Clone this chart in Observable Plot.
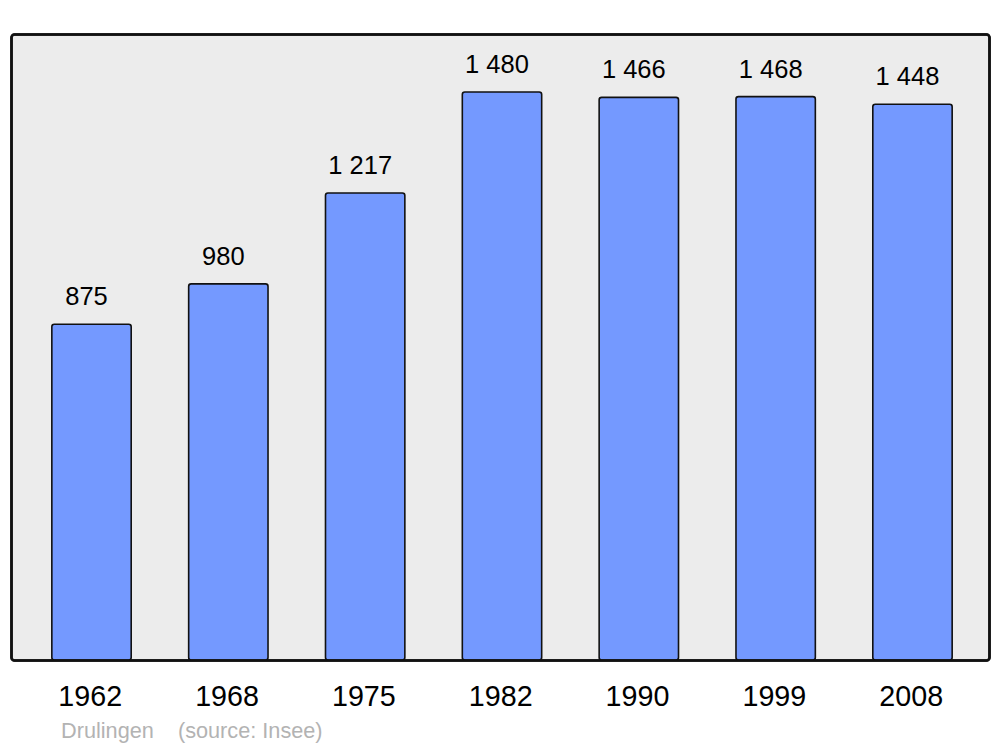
<!DOCTYPE html>
<html>
<head>
<meta charset="utf-8">
<script src="https://cdn.jsdelivr.net/npm/d3@7"></script>
<script src="https://cdn.jsdelivr.net/npm/@observablehq/plot@0.6"></script>
<style>
  html, body { margin: 0; padding: 0; background: #ffffff; }
  #chart { width: 1000px; height: 747px; }
</style>
</head>
<body>
<div id="chart"></div>
<script>
const years = ["1962", "1968", "1975", "1982", "1990", "1999", "2008"];
const population = [875, 980, 1217, 1480, 1466, 1468, 1448];
const valueLabels = ["875", "980", "1 217", "1 480", "1 466", "1 468", "1 448"];
const captionText = ["Drulingen\u00a0\u00a0\u00a0\u00a0(source: Insee)"];

const data = years.map((y, i) => ({year: y, pop: population[i], label: valueLabels[i]}));

const font = "'Liberation Sans', Arial, sans-serif";

const chart = Plot.plot({
  width: 1000,
  height: 747,
  marginTop: 34,
  marginBottom: 87,
  marginLeft: 11,
  marginRight: 11,
  style: {fontFamily: font, background: "#ffffff"},
  x: {domain: years, range: [23.1, 980.9], paddingInner: 0.42, paddingOuter: 0.21, align: 0.5, round: false, axis: null},
  y: {domain: [0, 1480], range: [660, 92], axis: null},
  marks: [
    Plot.frame({fill: "#ececec", stroke: "#111111", strokeWidth: 2.5, rx: 3}),
    Plot.barY(data, {x: "year", y: "pop", fill: "#7499ff", stroke: "#111111", strokeWidth: 1.6, rx: 2.5}),
    Plot.frame({stroke: "#111111", strokeWidth: 2.5, rx: 3, fill: "none"}),
    Plot.text(data, {x: "year", y: "pop", text: "label", dx: -5.5, dy: -19.5, lineAnchor: "bottom", fontSize: 25.5, fill: "#000000"}),
    Plot.text(data, {x: "year", text: "year", frameAnchor: "bottom", dx: -1.8, dy: 45, lineAnchor: "bottom", fontSize: 28.7, fill: "#000000"}),
    Plot.text(captionText, {frameAnchor: "bottom-left", dx: 49.5, dy: 77, lineAnchor: "bottom", textAnchor: "start", fontSize: 21.7, fill: "#b3b3b3"})
  ]
});

document.getElementById("chart").appendChild(chart);
</script>
</body>
</html>
